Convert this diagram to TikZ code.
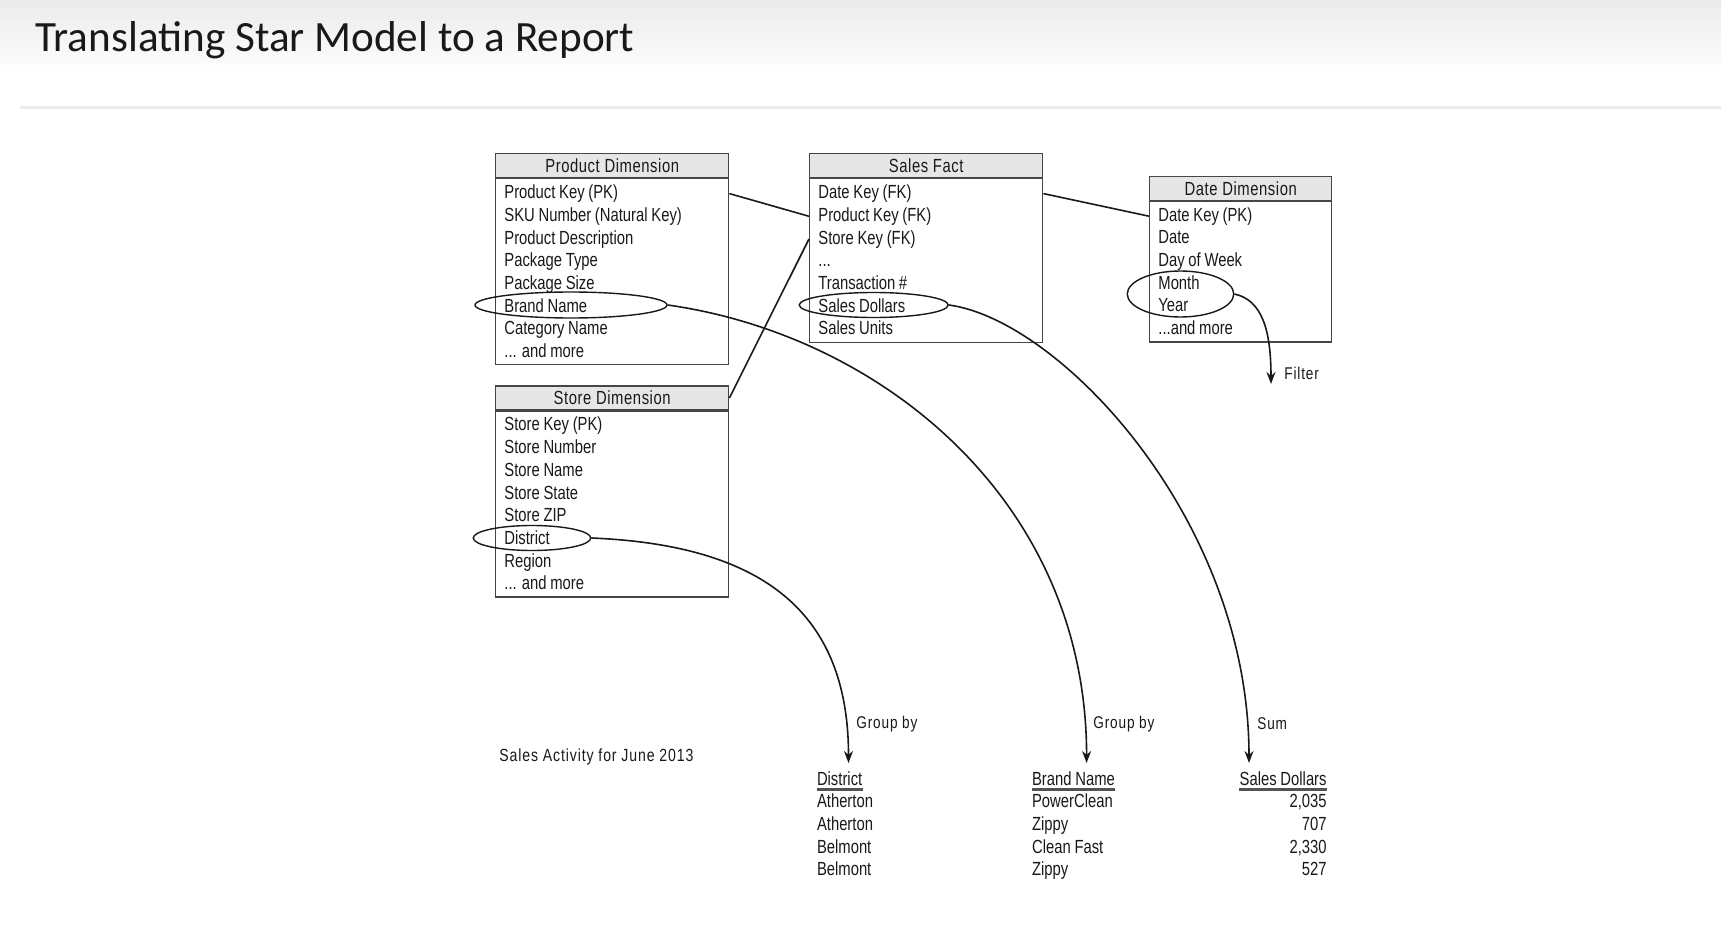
\documentclass[tikz,border=0pt]{standalone}
\usepackage{fontspec}
\setmainfont{Liberation Sans}
\newfontfamily\tabfont[FakeStretch=0.78,WordSpace=0.9]{Liberation Sans}
\newfontfamily\headfont[FakeStretch=0.78,LetterSpace=3]{Liberation Sans}
\newfontfamily\labfont[FakeStretch=0.8,LetterSpace=5]{Liberation Sans}
\newfontfamily\titlefont{Carlito}
\usetikzlibrary{positioning,arrows.meta,shapes.geometric}
\definecolor{ink}{RGB}{25,25,25}
\definecolor{boxline}{RGB}{70,70,70}
\definecolor{headfill}{RGB}{230,230,230}
\definecolor{rulegray}{RGB}{236,236,236}

\begin{document}
\begin{tikzpicture}[x=0.5pt,y=-0.5pt,
  thead/.style={draw=boxline,fill=headfill,line width=0.7pt,inner sep=0pt,anchor=north west,minimum height=12pt,font=\headfont\fontsize{9.5}{11}\selectfont,text=ink},
  tbody/.style={draw=boxline,line width=0.7pt,inner sep=0pt,anchor=north west},
  row/.style={anchor=west,inner xsep=4.5pt,inner ysep=0pt,text height=7pt,text depth=2pt,font=\tabfont\fontsize{9.5}{11}\selectfont,text=ink},
  ring/.style={draw=ink,ellipse,line width=0.7pt,inner sep=0pt},
  link/.style={draw=ink,line width=0.8pt},
  flow/.style={draw=ink,line width=0.8pt,-{Stealth[length=6pt,width=4.5pt]}},
  tag/.style={anchor=west,inner sep=0pt,font=\labfont\fontsize{8.5}{10}\selectfont,text=ink},
  cell/.style={inner sep=0pt,text height=7pt,text depth=2pt,font=\tabfont\fontsize{9.5}{11}\selectfont,text=ink},
  uline/.style={draw=ink!75,line width=1.2pt}]

\useasboundingbox (0,0) rectangle (1721,931);
\fill[white] (0,0) rectangle (1721,931);
\shade[top color=gray!16,bottom color=white] (0,0) rectangle (1721,75);
\draw[rulegray,line width=1.5pt] (20,108)--(1721,108);
\node[anchor=base west,inner sep=0pt,font=\titlefont\fontsize{21.6}{26}\selectfont,text=black!90] (title) at (35,51.6) {Translating Star Model to a Report};

% product dimension
\node[thead,minimum width=116.5pt] (pdhead) at (495,152.6) {Product Dimension};
\node[tbody,minimum width=116.5pt,minimum height=92.75pt] (pdbox) at (pdhead.south west) {};
\foreach \t [count=\i] in {Product Key (PK),SKU Number (Natural Key),Product Description,Package Type,Package Size,Brand Name,Category Name,{.{}.{}. and more}}
  \node[row] (pd\i) at (495,{193.6+22.7*(\i-1)}) {\t};

% sales fact
\node[thead,minimum width=116.5pt] (sfhead) at (809,152.6) {Sales Fact};
\node[tbody,minimum width=116.5pt,minimum height=81.8pt] (sfbox) at (sfhead.south west) {};
\foreach \t [count=\i] in {Date Key (FK),Product Key (FK),Store Key (FK),{.{}.{}.},Transaction \#,Sales Dollars,Sales Units}
  \node[row] (sf\i) at (809,{193.6+22.7*(\i-1)}) {\t};

% date dimension
\node[thead,minimum width=91pt] (ddhead) at (1149,175.6) {Date Dimension};
\node[tbody,minimum width=91pt,minimum height=70.1pt] (ddbox) at (ddhead.south west) {};
\foreach \t [count=\i] in {Date Key (PK),Date,Day of Week,Month,Year,{.{}.{}.and more}}
  \node[row] (dd\i) at (1149,{216.2+22.7*(\i-1)}) {\t};

% store dimension
\node[thead,minimum width=116.5pt] (sdhead) at (495,385.3) {Store Dimension};
\node[tbody,minimum width=116.5pt,minimum height=92.75pt] (sdbox) at (sdhead.south west) {};
\foreach \t [count=\i] in {Store Key (PK),Store Number,Store Name,Store State,Store ZIP,District,Region,{.{}.{}. and more}}
  \node[row] (sd\i) at (495,{425.9+22.7*(\i-1)}) {\t};

\draw[link] (pd1 -| pdbox.east)--(sf2.west);
\draw[link] (sf1 -| sfbox.east)--(dd1.west);
\draw[link] (sdhead.east)--(sf3.west);

% circled columns
\node[ring,minimum width=96pt,minimum height=13pt] (brandring) at (571,305) {};
\node[ring,minimum width=74.5pt,minimum height=12.5pt] (salesring) at (873.7,305) {};
\node[ring,minimum width=58.75pt,minimum height=12.5pt] (distring) at (532,538) {};
\node[ring,minimum width=53.25pt,minimum height=23pt] (monthring) at (1180.5,294) {};

% report
\node[tag,font=\labfont\fontsize{8.8}{10}\selectfont] (caption) at (499,757) {Sales Activity for June 2013};
\node[cell,anchor=west] (disthead) at (816.6,780) {District};
\node[cell,anchor=west] (brandhead) at (1031.7,780) {Brand Name};
\node[cell,anchor=east] (dollarhead) at (1327,780) {Sales Dollars};
\foreach \h in {disthead,brandhead,dollarhead}
  \draw[uline] (\h.south west)--(\h.south east);
\foreach \d/\b/\s [count=\i] in {Atherton/PowerClean/{2,035},Atherton/Zippy/707,Belmont/Clean Fast/{2,330},Belmont/Zippy/527}{
  \node[cell,anchor=west] (dist\i) at (816.6,{780+22.7*\i}) {\d};
  \node[cell,anchor=west] (brand\i) at (1031.7,{780+22.7*\i}) {\b};
  \node[cell,anchor=east] (dollar\i) at (1327,{780+22.7*\i}) {\s};
}

\coordinate (dtip) at (848.5,763);
\coordinate (btip) at (1086.6,763);
\coordinate (stip) at (1249,763);
\coordinate (ftip) at (1271,384);
\draw[flow] (distring.east) .. controls (760,545) and (848.5,610) .. (dtip);
\draw[flow] (brandring.east) .. controls (880,335) and (1086.6,500) .. (btip);
\draw[flow] (salesring.east) .. controls (1060,320) and (1249,520) .. (stip);
\draw[flow] (monthring.east) .. controls (1262,300) and (1271,330) .. (ftip);
\node[tag] (grpdist) at (856,724) {Group by};
\node[tag] (grpbrand) at (1093,724) {Group by};
\node[tag] (sumtag) at (1257,724) {Sum};
\node[tag] (filtertag) at (1284,373) {Filter};
\end{tikzpicture}
\end{document}
